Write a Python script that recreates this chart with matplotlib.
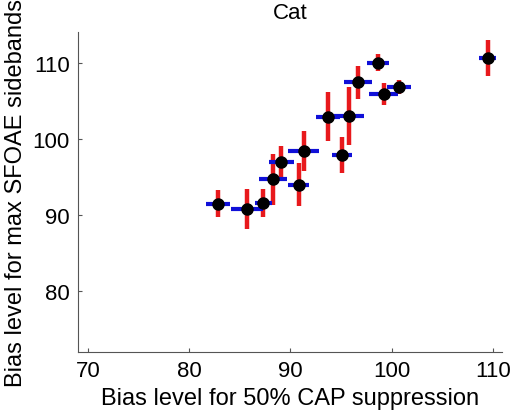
import numpy as np
import matplotlib
matplotlib.use("Agg")
from matplotlib import pyplot as plt

plt.rcParams['font.family'] = ['Liberation Sans', 'DejaVu Sans']

# bias level for 50% CAP suppression (x) and for max SFOAE sidebands (y)
cap_x = [82.8, 85.7, 87.3, 88.25, 89.1, 90.8, 91.3, 93.7, 95.8, 95.1, 96.7, 98.65, 99.2, 100.7, 109.5]
sfoae_y = [91.5, 90.8, 91.6, 94.7, 96.9, 94.0, 98.4, 102.9, 103.0, 97.9, 107.4, 110.0, 105.9, 106.8, 110.6]
x_err = [1.2, 1.55, 0.85, 1.4, 1.25, 1.05, 1.5, 1.2, 1.45, 0.95, 1.4, 1.05, 1.4, 1.2, 0.85]
y_err = [1.8, 2.65, 1.85, 3.35, 2.2, 2.85, 2.65, 3.2, 3.85, 2.4, 2.15, 1.1, 1.45, 0.9, 2.35]

fig = plt.figure(figsize=(5.11, 4.14), dpi=100, facecolor='w')
ax = fig.add_axes([0.153, 0.147, 0.829, 0.773])

ax.errorbar(cap_x, sfoae_y, yerr=y_err, fmt='none', ecolor='#e8191c', elinewidth=3.2, capsize=0, zorder=2)
ax.errorbar(cap_x, sfoae_y, xerr=x_err, fmt='none', ecolor='#1010d8', elinewidth=3.0, capsize=0, zorder=3)
ax.plot(cap_x, sfoae_y, 'o', color='k', markersize=8, zorder=4)

ax.set_xlim(69, 110.9)
ax.set_ylim(72, 114)
ax.set_xticks([70, 80, 90, 100, 110])
ax.set_yticks([80, 90, 100, 110])
ax.spines['top'].set_visible(False)
ax.spines['right'].set_visible(False)
for s in ['left', 'bottom']:
    ax.spines[s].set_color('#555555')
ax.tick_params(direction='in', length=3, color='#555555', labelsize=16, pad=6)

ax.set_xlabel("Bias level for 50% CAP suppression", fontsize=17, labelpad=4)
ax.set_ylabel("Bias level for max SFOAE sidebands", fontsize=17, labelpad=4)
ax.set_title("Cat", fontsize=16, pad=10)

plt.savefig("out.png", dpi=100)
plt.close(fig)
